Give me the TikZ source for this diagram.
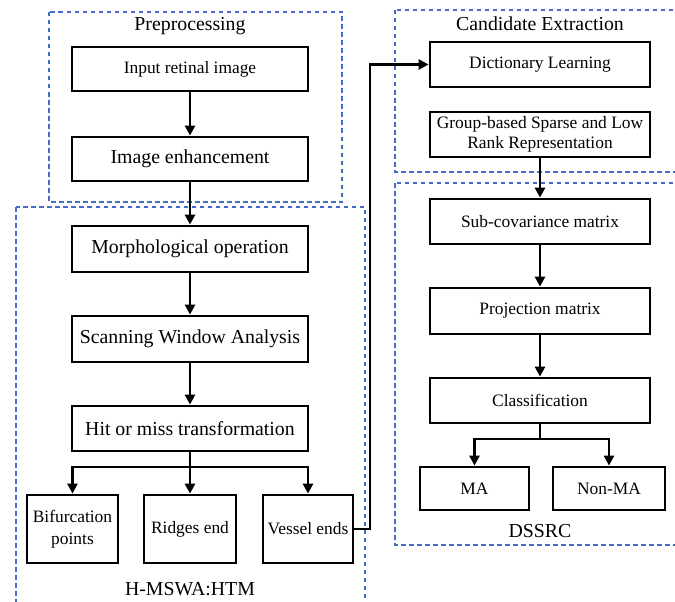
\documentclass[tikz,border=0pt]{standalone}
\usepackage{fontspec}
\setmainfont{Liberation Serif}
\usetikzlibrary{arrows.meta}
\definecolor{dashblue}{RGB}{68,108,200}
\tikzset{
  x=1pt, y=-1pt,
  stepbox/.style={draw=black, line width=2.8pt, minimum width=#1, inner sep=0pt, align=center},
  smalltxt/.style={font=\fontsize{17.4}{21}\selectfont},
  bigtxt/.style={font=\fontsize{19.8}{23}\selectfont},
  grp/.style={draw=dashblue, line width=2.6pt, dash pattern=on 4.5pt off 3.5pt},
  arr/.style={draw=black, line width=2.6pt, -{Triangle[length=10pt,width=10pt]}},
  ln/.style={draw=black, line width=2.6pt},
}
\begin{document}
\begin{tikzpicture}
\useasboundingbox (0,0) rectangle (675,602);
\clip (0,0) rectangle (675,602);
% group frames
\draw[grp] (49,12) rectangle (342,202);
\draw[grp] (16,207) rectangle (365,640);
\draw[grp] (395,10) rectangle (700,172);
\draw[grp] (395,183) rectangle (700,545);
% titles
\node[bigtxt] (tpre) at (190,26) {Preprocessing};
\node[bigtxt] (thm) at (190,589) {H-MSWA:HTM};
\node[bigtxt] (tce) at (540,24) {Candidate Extraction};
\node[bigtxt] (tds) at (540,531) {DSSRC};
% left column
\node[stepbox=236pt, minimum height=44pt, smalltxt] (inp) at (190,69) {Input retinal image};
\node[stepbox=236pt, minimum height=44pt, bigtxt] (enh) at (190,159) {Image enhancement};
\node[stepbox=236pt, minimum height=46pt, bigtxt] (morph) at (190,249) {Morphological operation};
\node[stepbox=236pt, minimum height=46pt, bigtxt] (scan) at (190,339) {Scanning Window Analysis};
\node[stepbox=236pt, minimum height=45pt, bigtxt] (hit) at (190,428.5) {Hit or miss transformation};
\node[stepbox=91pt, minimum height=68pt, font=\fontsize{17.4}{22}\selectfont] (bif) at (72.5,529) {Bifurcation\\points};
\node[stepbox=92pt, minimum height=68pt, smalltxt] (ridge) at (190,529) {Ridges end};
\node[stepbox=90pt, minimum height=68pt, smalltxt] (vessel) at (308,529) {Vessel ends};
% right column
\node[stepbox=220pt, minimum height=45pt, smalltxt] (dict) at (540,64.5) {Dictionary Learning};
\node[stepbox=220pt, minimum height=45pt, font=\fontsize{17.4}{20}\selectfont] (group) at (540,134.5) {Group-based Sparse and Low\\Rank Representation};
\node[stepbox=220pt, minimum height=45pt, smalltxt] (subcov) at (540,221.5) {Sub-covariance matrix};
\node[stepbox=220pt, minimum height=46pt, smalltxt] (proj) at (540,311) {Projection matrix};
\node[stepbox=220pt, minimum height=45pt, smalltxt] (cls) at (540,400.5) {Classification};
\node[stepbox=109pt, minimum height=43pt, smalltxt] (ma) at (474.5,488.5) {MA};
\node[stepbox=112pt, minimum height=43pt, smalltxt] (nonma) at (609,488.5) {Non-MA};
% connectors left
\draw[arr] (inp.south) -- (enh.north);
\draw[arr] (enh.south) -- (morph.north);
\draw[arr] (morph.south) -- (scan.north);
\draw[arr] (scan.south) -- (hit.north);
\coordinate (hb) at (190,467);
\draw[ln] (hit.south) -- (hb);
\draw[arr] (hb) -| (bif.north);
\draw[arr] (hb) -- (ridge.north);
\draw[arr] (hb) -| (vessel.north);
\coordinate (vx) at (370,529);
\draw[arr] (vessel.east) -- (vx) |- (dict.west);
% connectors right
\draw[arr] (group.south) -- (subcov.north);
\draw[arr] (subcov.south) -- (proj.north);
\draw[arr] (proj.south) -- (cls.north);
\coordinate (cb) at (540,439);
\draw[ln] (cls.south) -- (cb);
\draw[arr] (cb) -| (ma.north);
\draw[arr] (cb) -| (nonma.north);
\end{tikzpicture}
\end{document}
